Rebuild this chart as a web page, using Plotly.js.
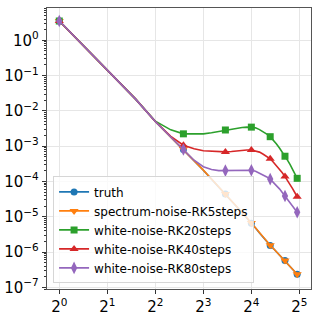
<!DOCTYPE html>
<html>
<head>
<meta charset="utf-8">
<script src="https://cdn.plot.ly/plotly-3.0.1.min.js"></script>
<style>html,body{margin:0;padding:0;background:#fff;}#chart{width:319px;height:319px;}</style>
</head>
<body>
<div id="chart"></div>
<script>
// wavenumbers k = 1..31
const k = [1,2,3,4,5,6,7,8,9,10,11,12,13,14,15,16,17,18,19,20,21,22,23,24,25,26,27,28,29,30,31];

const truth = [3.52,0.145,0.0219,5.0e-3,1.82e-3,8.1e-4,3.98e-4,2.09e-4,1.17e-4,7.1e-5,4.4e-5,2.8e-5,1.9e-5,1.32e-5,9.3e-6,6.6e-6,4.8e-6,3.5e-6,2.6e-6,2.0e-6,1.55e-6,1.26e-6,1.02e-6,8.3e-7,6.9e-7,5.8e-7,4.8e-7,4.0e-7,3.3e-7,2.75e-7,2.35e-7];

const spectrumRK5 = [3.50,0.146,0.0220,5.0e-3,1.83e-3,8.2e-4,4.0e-4,2.1e-4,1.18e-4,7.1e-5,4.4e-5,2.8e-5,1.9e-5,1.32e-5,9.4e-6,6.7e-6,4.8e-6,3.5e-6,2.6e-6,2.0e-6,1.56e-6,1.26e-6,1.02e-6,8.4e-7,6.9e-7,5.8e-7,4.8e-7,4.0e-7,3.3e-7,2.76e-7,2.36e-7];

const whiteRK20 = [3.52,0.145,0.0219,5.1e-3,2.9e-3,2.24e-3,2.19e-3,2.24e-3,2.4e-3,2.63e-3,2.88e-3,3.09e-3,3.24e-3,3.39e-3,3.47e-3,3.47e-3,3.31e-3,2.95e-3,2.57e-3,2.19e-3,1.86e-3,1.48e-3,1.15e-3,8.9e-4,6.9e-4,5.2e-4,3.98e-4,3.0e-4,2.24e-4,1.66e-4,1.23e-4];

const whiteRK40 = [3.52,0.145,0.0219,5.0e-3,1.9e-3,1.07e-3,8.5e-4,7.4e-4,7.1e-4,6.9e-4,6.9e-4,7.1e-4,7.4e-4,7.6e-4,7.8e-4,7.8e-4,7.4e-4,6.8e-4,5.9e-4,5.1e-4,4.4e-4,3.5e-4,2.8e-4,2.24e-4,1.78e-4,1.38e-4,1.07e-4,8.3e-5,6.3e-5,4.8e-5,3.7e-5];

const whiteRK80 = [3.52,0.145,0.0219,5.0e-3,1.82e-3,8.1e-4,4.0e-4,2.63e-4,2.19e-4,2.04e-4,2.04e-4,2.04e-4,2.09e-4,2.14e-4,2.14e-4,2.09e-4,1.95e-4,1.74e-4,1.51e-4,1.35e-4,1.17e-4,9.5e-5,7.8e-5,6.2e-5,4.9e-5,3.9e-5,3.2e-5,2.57e-5,2.04e-5,1.66e-5,1.35e-5];

const seriesNames = ["truth","spectrum-noise-RK5steps","white-noise-RK20steps","white-noise-RK40steps","white-noise-RK80steps"];
const seriesData = [truth, spectrumRK5, whiteRK20, whiteRK40, whiteRK80];

const xTickVals = [1,2,4,8,16,32];
const xTickText = ["2<sup>0</sup>","2<sup>1</sup>","2<sup>2</sup>","2<sup>3</sup>","2<sup>4</sup>","2<sup>5</sup>"];
const yTickVals = [1,1e-1,1e-2,1e-3,1e-4,1e-5,1e-6,1e-7];
const yTickText = ["10<sup>0</sup>","10<sup>−1</sup>","10<sup>−2</sup>","10<sup>−3</sup>","10<sup>−4</sup>","10<sup>−5</sup>","10<sup>−6</sup>","10<sup>−7</sup>"];

const colors = ["#1f77b4","#ff7f0e","#2ca02c","#d62728","#9467bd"];
const symbols = ["circle","triangle-down","square","triangle-up","diamond-tall"];
const msizes = [7,8,7,8,9];
const markEvery = 5;

const traces = [];
seriesData.forEach((ys, i) => {
  traces.push({x: k, y: ys, mode: "lines", type: "scatter",
    line: {color: colors[i], width: 1.6}, showlegend: false, hoverinfo: "skip"});
  const mx = k.filter((_, j) => j % markEvery === 0);
  const my = ys.filter((_, j) => j % markEvery === 0);
  traces.push({x: mx, y: my, mode: "markers", type: "scatter",
    marker: {color: colors[i], symbol: symbols[i], size: msizes[i], line: {width: 0}},
    showlegend: false});
});
seriesData.forEach((ys, i) => {
  traces.push({x: [null], y: [null], mode: "lines+markers", type: "scatter", name: seriesNames[i],
    line: {color: colors[i], width: 1.6},
    marker: {color: colors[i], symbol: symbols[i], size: msizes[i], line: {width: 0}}});
});

const minorY = [];
for (let e = -8; e <= 1; e++) for (let m = 2; m <= 9; m++) minorY.push(m * Math.pow(10, e));

const layout = {
  width: 319, height: 319,
  margin: {l: 47, r: 8, t: 8, b: 30, pad: 0},
  paper_bgcolor: "#fff", plot_bgcolor: "#fff",
  font: {family: "DejaVu Sans", color: "#000"},
  showlegend: true,
  legend: {x: 0.023, y: 0.02, xanchor: "left", yanchor: "bottom",
    bgcolor: "rgba(255,255,255,0.8)", bordercolor: "#d6d6d6", borderwidth: 1,
    font: {size: 12, family: "DejaVu Sans"}, tracegroupgap: 0, itemwidth: 30},
  xaxis: {type: "log", range: [-0.077, 1.578], tickmode: "array", tickvals: xTickVals, ticktext: xTickText,
    ticks: "outside", ticklen: 4, tickcolor: "#333", showgrid: true, gridcolor: "#e6e6e6", gridwidth: 1,
    showline: true, linecolor: "#555", linewidth: 1.2, mirror: true, zeroline: false,
    tickfont: {size: 15}},
  yaxis: {type: "log", range: [-7.045, 0.915], tickmode: "array", tickvals: yTickVals, ticktext: yTickText,
    ticks: "outside", ticklen: 4, tickcolor: "#333", showgrid: true, gridcolor: "#e6e6e6", gridwidth: 1,
    showline: true, linecolor: "#555", linewidth: 1.2, mirror: true, zeroline: false,
    tickfont: {size: 15},
    minor: {tickmode: "array", tickvals: minorY, ticks: "outside", ticklen: 2, tickcolor: "#333", showgrid: false}}
};

Plotly.newPlot("chart", traces, layout, {displayModeBar: false, staticPlot: true});
</script>
</body>
</html>
